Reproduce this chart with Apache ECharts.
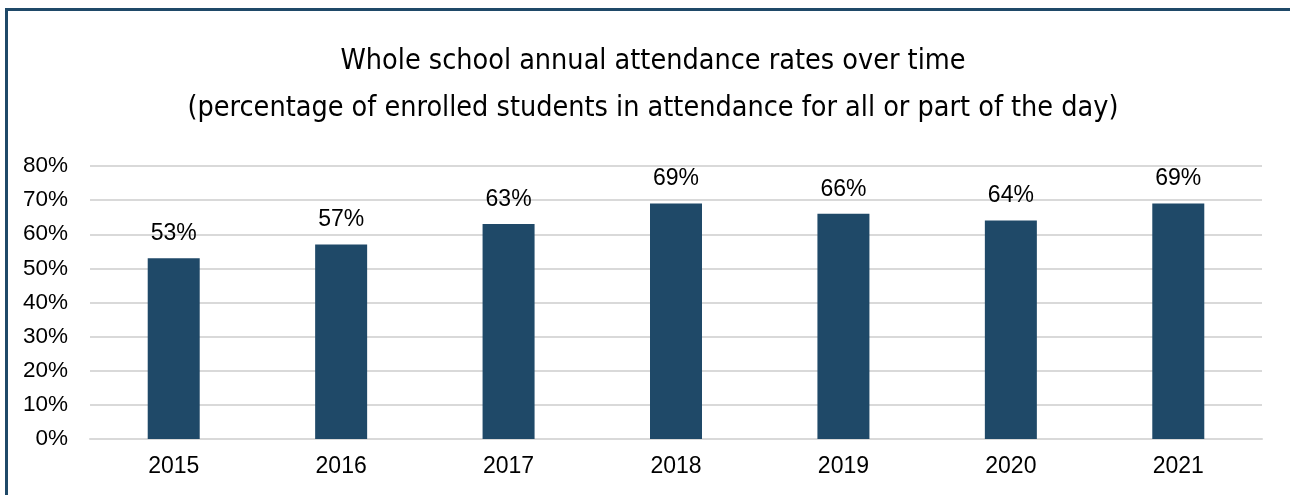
<!DOCTYPE html>
<html><head><meta charset="utf-8">
<script src="https://cdn.jsdelivr.net/npm/echarts@6/dist/echarts.min.js"></script>
<style>html,body{margin:0;padding:0;background:#fff}#c{width:1290px;height:495px}</style>
</head><body><div id="c"></div>
<script>
const categories = ['2015','2016','2017','2018','2019','2020','2021'];
const values = [53, 57, 63, 69, 66, 64, 69];
const yTicks = [0, 10, 20, 30, 40, 50, 60, 70, 80];
const titleLines = ['Whole school annual attendance rates over time', '(percentage of enrolled students in attendance for all or part of the day)'];

const chart = echarts.init(document.getElementById('c'), null, {renderer:'canvas'});
chart.setOption({
  animation:false,
  backgroundColor:'#fff',
  graphic:[
    {type:'line', shape:{x1:6, y1:9.5, x2:1300, y2:9.5}, style:{stroke:'#1F4968', lineWidth:3}},
    {type:'line', shape:{x1:6.5, y1:8, x2:6.5, y2:500}, style:{stroke:'#1F4968', lineWidth:3}}
  ],
  title:{
    text: titleLines.join('\n'),
    left: 648, top: 33, textAlign:'center',
    textStyle:{fontFamily:'"DejaVu Sans Condensed"', fontWeight:'normal', fontSize:28.5, lineHeight:47, color:'#000'}
  },
  grid:{left:90, right:28, top:166, bottom:56, containLabel:false},
  xAxis:{
    type:'category', data:categories,
    axisLine:{show:true, lineStyle:{color:'#d9d9d9', width:2}},
    axisTick:{show:false},
    axisLabel:{color:'#000', fontFamily:'Liberation Sans', fontSize:23, margin:16}
  },
  yAxis:{
    type:'value', min:0, max:80, interval:10,
    axisLine:{show:false}, axisTick:{show:false},
    splitLine:{lineStyle:{color:'#d9d9d9', width:2}},
    axisLabel:{color:'#000', fontFamily:'Liberation Sans', fontSize:22.5, margin:22,
      formatter:v=> yTicks.includes(v) ? v+'%' : ''}
  },
  series:[{
    type:'bar', data:values, barWidth:52,
    itemStyle:{color:'#1F4968'},
    label:{show:true, position:'top', distance:13, color:'#000', fontFamily:'Liberation Sans', fontSize:23, formatter:p=>p.value+'%'}
  }]
});
</script></body></html>
